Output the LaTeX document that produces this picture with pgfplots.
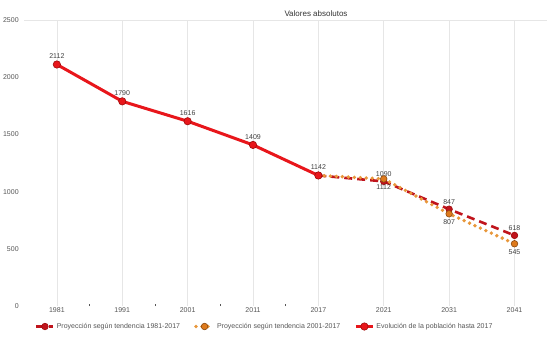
\documentclass[border=0pt]{standalone}
\usepackage{fontspec}
\setmainfont{Liberation Sans}
\usepackage{pgfplots}
\pgfplotsset{compat=1.18}
\definecolor{evo}{HTML}{E8161B}
\definecolor{evoedge}{HTML}{9E0B0B}
\definecolor{proyA}{HTML}{C0141C}
\definecolor{proyB}{HTML}{E8973A}
\definecolor{proyBfill}{HTML}{DE7A1C}
\definecolor{proyBedge}{HTML}{8A4A10}
\definecolor{gridc}{HTML}{E6E6E6}
\definecolor{labc}{HTML}{555555}
\begin{document}
\begin{tikzpicture}[x=1pt,y=1pt]
\useasboundingbox (0,0) rectangle (560,337);
\begin{axis}[
  at={(37,27)}, anchor=south west,
  scale only axis, width=523pt, height=286pt,
  xmin=-0.5, xmax=7.5, ymin=0, ymax=2500,
  axis line style={draw=none},
  tick pos=left,
  xtick={0,...,7},
  xticklabels={1981,1991,2001,2011,2017,2021,2031,2041},
  minor xtick={0.5,1.5,2.5,3.5},
  xmajorgrids, grid style={gridc, line width=0.6pt},
  major x tick style={draw=none},
  minor x tick style={draw=labc, line width=0.5pt},
  minor tick length=2pt,
  ytick={0,500,1000,1500,2000,2500},
  major y tick style={draw=none},
  extra y ticks={2500}, extra y tick labels={},
  extra y tick style={grid=major, major grid style={gridc, line width=0.6pt}},
  tick label style={font=\fontsize{7}{8}\selectfont, text=labc},
  xticklabel style={yshift=2pt},
  yticklabel style={xshift=-2pt},
  scaled y ticks=false,
  y tick label style={/pgf/number format/.cd, 1000 sep={}, assume math mode=true},
  legend style={at={(0.46,-0.045)}, anchor=north, draw=none, fill=none,
    legend columns=3, font=\fontsize{7}{8}\selectfont, text=labc,
    /tikz/every even column/.append style={column sep=12pt}},
  legend cell align=left,
  nodes near coords style={font=\fontsize{7}{8}\selectfont, text=black!75},
  clip=false,
]
% Projection 1981-2017 (dashed dark red)
\addplot[proyA, line width=2.6pt, dash pattern=on 8pt off 5pt,
  mark=*, mark size=3.3pt, mark options={solid, fill=proyA, draw=evoedge, line width=0.6pt},
  nodes near coords, point meta=explicit symbolic,
  every node near coord/.append style={anchor=south, yshift=1pt}]
  coordinates {(4,1142)[] (5,1090)[1090] (6,847)[847] (7,618)[618]};
\addlegendentry{Proyección según tendencia 1981-2017}
% Projection 2001-2017 (dotted orange)
\addplot[proyB, line width=3.8pt, dash pattern=on 0pt off 6pt, line cap=round,
  mark=*, mark size=3.3pt, mark options={solid, fill=proyBfill, draw=proyBedge, line width=0.6pt},
  nodes near coords, point meta=explicit symbolic,
  every node near coord/.append style={anchor=north, yshift=-2pt}]
  coordinates {(4,1142)[] (5,1112)[1112] (6,807)[807] (7,545)[545]};
\addlegendentry{Proyección según tendencia 2001-2017}
% Evolution until 2017 (solid red)
\addplot[evo, line width=3pt,
  mark=*, mark size=3.7pt, mark options={fill=evo, draw=evoedge, line width=0.6pt},
  nodes near coords, point meta=explicit symbolic,
  every node near coord/.append style={anchor=south, yshift=2pt}]
  coordinates {(0,2112)[2112] (1,1790)[1790] (2,1616)[1616] (3,1409)[1409] (4,1142)[1142]};
\addlegendentry{Evolución de la población hasta 2017}
\end{axis}
\node[font=\fontsize{8}{9}\selectfont, text=black!80] at (316,323) {Valores absolutos};
\end{tikzpicture}
\end{document}
